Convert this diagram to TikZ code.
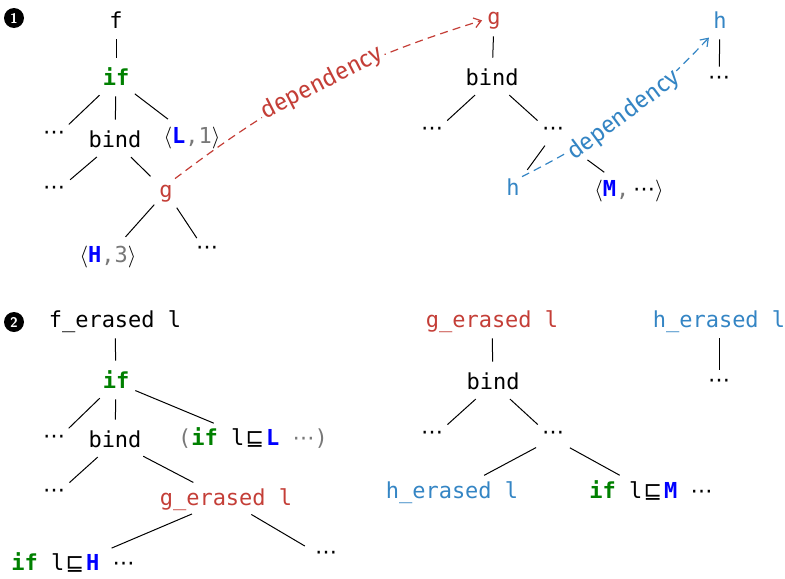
\documentclass[tikz,border=0pt]{standalone}
\usepackage{fontspec}
\usepackage{xcolor}
\usetikzlibrary{arrows.meta, positioning}
\setmonofont{DejaVu Sans Mono}
\newfontfamily\symfont{DejaVu Sans}
\newfontfamily\deplabfont{Fira Sans}
\definecolor{depRed}{RGB}{196,62,55}
\definecolor{depBlue}{RGB}{52,133,196}
\definecolor{kwGreen}{RGB}{0,128,0}
\definecolor{labBlue}{RGB}{0,0,255}
\definecolor{greyTxt}{RGB}{120,120,120}
\newcommand{\kw}[1]{\textcolor{kwGreen}{\textbf{#1}}}
\newcommand{\lab}[1]{\textcolor{labBlue}{\textbf{#1}}}
\newcommand{\greytxt}[1]{\textcolor{greyTxt}{#1}}
\newcommand{\sym}[1]{{\symfont #1}}
\newcommand{\lqsub}{\kern0.6pt{\symfont\mdseries ⊑}\kern1pt}
\newcommand{\cdts}{\sym{⋯}}
\newcommand{\lang}{$\langle$}
\newcommand{\rang}{$\rangle$}

\begin{document}
\begin{tikzpicture}[
    x=0.5pt, y=0.5pt,
    tn/.style={font=\fontsize{11}{13}\selectfont\ttfamily, anchor=base, inner sep=1pt, text height=8pt, text depth=2.5pt},
    dots/.style={font=\fontsize{11}{13}\selectfont\symfont, anchor=base, inner sep=1pt, text height=3pt, text depth=2.5pt},
    num/.style={circle, fill=black, text=white, inner sep=0pt, minimum size=10pt, font=\fontsize{7}{7}\selectfont\sffamily\bfseries},
    br/.style={draw, line width=0.5pt, shorten <=2pt, shorten >=4.5pt},
    dep/.style={line width=0.6pt, dash pattern=on 4pt off 2.6pt, -{Straight Barb[length=3.5pt, width=5pt]}, shorten >=1.5pt},
    deplab/.style={font=\fontsize{12}{14}\selectfont\deplabfont, sloped, fill=white, inner sep=1pt, midway}
]
    \useasboundingbox (0,0) rectangle (785,-578);

    \node[num] (one) at (14,-18) {1};
    \node[tn] (f) at (116,-28) {f};
    \node[tn] (if1) at (116,-85) {\kw{if}};
    \node[dots] (d1a) at (54,-139) {⋯};
    \node[tn] (bind1) at (115,-147) {bind};
    \node[tn] (L1) at (192,-143) {\lang\lab{L}\greytxt{,1}\rang};
    \node[dots] (d1b) at (54,-194) {⋯};
    \node[tn, text=depRed] (g1) at (166,-197) {g};
    \node[tn] (H1) at (108,-262) {\lang\lab{H}\greytxt{,3}\rang};
    \node[dots] (d1c) at (207,-254) {⋯};

    \node[tn, text=depRed] (g2) at (494,-25) {g};
    \node[tn] (bind2) at (492,-85) {bind};
    \node[dots] (d2a) at (432,-135) {⋯};
    \node[dots] (d2b) at (553,-135) {⋯};
    \node[tn, text=depBlue] (h2) at (513,-195) {h};
    \node[tn] (M2) at (629,-196) {\lang\lab{M}\greytxt{,}\,\cdts\rang};
    \node[tn, text=depBlue] (h3) at (720,-28) {h};
    \node[dots] (d3) at (719,-84) {⋯};

    \draw[br] (f) -- (if1);
    \draw[br] (if1) -- (d1a);
    \draw[br] (if1) -- (bind1);
    \draw[br] (if1) -- (L1);
    \draw[br] (bind1) -- (d1b);
    \draw[br] (bind1) -- (g1);
    \draw[br] (g1) -- (H1);
    \draw[br] (g1) -- (d1c);
    \draw[br] (g2) -- (bind2);
    \draw[br] (bind2) -- (d2a);
    \draw[br] (bind2) -- (d2b);
    \draw[br] (d2b) -- (h2);
    \draw[br] (d2b) -- (M2);
    \draw[br] (h3) -- (d3);

    \draw[dep, draw=depRed] (g1.north east) to[bend left=10] node[deplab, text=depRed] {dependency} (g2.west);
    \draw[dep, draw=depBlue] (h2.north east) to[bend right=10] node[deplab, text=depBlue] {dependency} (h3.south west);

    \node[num] (two) at (14,-322) {2};
    \node[tn] (fe) at (115,-327) {f\_erased l};
    \node[tn] (if4) at (116,-388) {\kw{if}};
    \node[dots] (d4a) at (54,-443) {⋯};
    \node[tn] (bind4) at (115,-447) {bind};
    \node[tn] (L4) at (253,-445) {\greytxt{(}\kw{if} l\lqsub\lab{L} \greytxt{\cdts)}};
    \node[dots] (d4b) at (54,-497) {⋯};
    \node[tn, text=depRed] (ge4) at (226,-505) {g\_erased l};
    \node[tn] (H4) at (73,-570) {\kw{if} l\lqsub\lab{H} \cdts};
    \node[dots] (d4c) at (326,-559) {⋯};

    \node[tn, text=depRed] (ge5) at (492,-327) {g\_erased l};
    \node[tn] (bind5) at (493,-389) {bind};
    \node[dots] (d5a) at (432,-439) {⋯};
    \node[dots] (d5b) at (553,-439) {⋯};
    \node[tn, text=depBlue] (he5) at (452,-498) {h\_erased l};
    \node[tn] (M5) at (651,-498) {\kw{if} l\lqsub\lab{M} \cdts};
    \node[tn, text=depBlue] (he6) at (719,-327) {h\_erased l};
    \node[dots] (d6) at (719,-387) {⋯};

    \draw[br] (fe) -- (if4);
    \draw[br] (if4) -- (d4a);
    \draw[br] (if4) -- (bind4);
    \draw[br] (if4) -- (L4);
    \draw[br] (bind4) -- (d4b);
    \draw[br] (bind4) -- (ge4);
    \draw[br] (ge4) -- (H4);
    \draw[br] (ge4) -- (d4c);
    \draw[br] (ge5) -- (bind5);
    \draw[br] (bind5) -- (d5a);
    \draw[br] (bind5) -- (d5b);
    \draw[br] (d5b) -- (he5);
    \draw[br] (d5b) -- (M5);
    \draw[br] (he6) -- (d6);
\end{tikzpicture}
\end{document}
